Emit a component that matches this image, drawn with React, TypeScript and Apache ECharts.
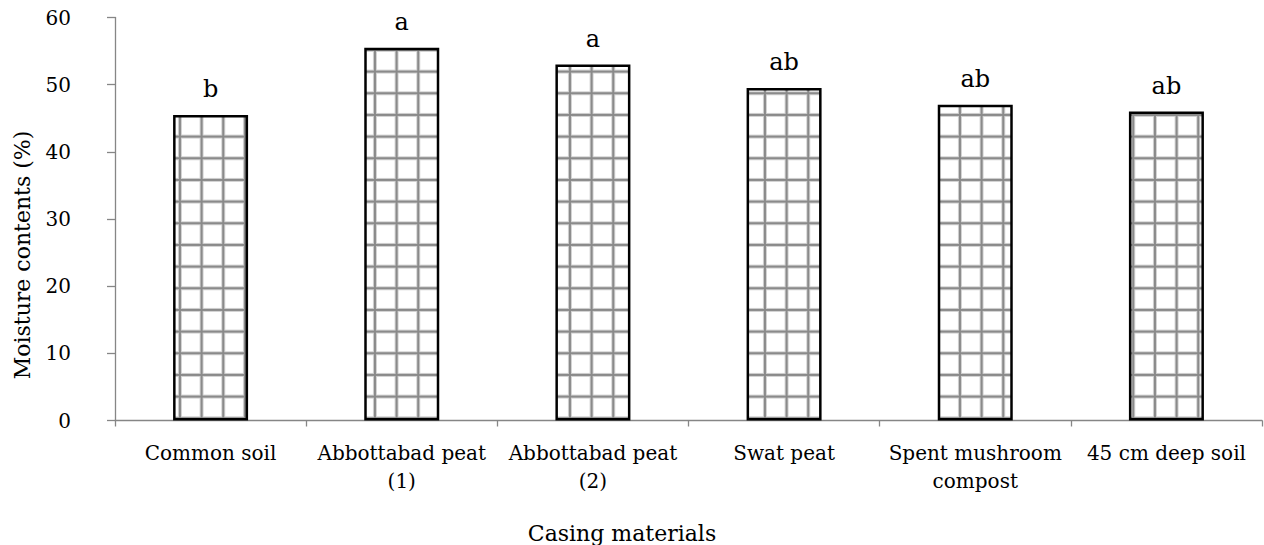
import React, { useEffect, useRef } from "react";
import * as echarts from "echarts";

const categories = [
  "Common soil",
  "Abbottabad peat\n(1)",
  "Abbottabad peat\n(2)",
  "Swat peat",
  "Spent mushroom\ncompost",
  "45 cm deep soil",
];
const moisture = [45.5, 55.5, 53, 49.5, 47, 46];
const groupLetters = ["b", "a", "a", "ab", "ab", "ab"];
const yTicks = { min: 0, max: 60, interval: 10 };
const xName = "Casing materials";
const yName = "Moisture contents (%)";

const FONT = "'DejaVu Serif', 'Liberation Serif', serif";

function makePattern(): HTMLCanvasElement {
  const size = 65;
  const c = document.createElement("canvas");
  c.width = size;
  c.height = size;
  const ctx = c.getContext("2d")!;
  ctx.fillStyle = "#ffffff";
  ctx.fillRect(0, 0, size, size);
  const step = size / 3;
  for (let k = 0; k < 3; k++) {
    const p = 6.6 + k * step;
    ctx.fillStyle = "#d2d2d2";
    ctx.fillRect(p - 2, 0, 4, size);
    ctx.fillRect(0, p - 2, size, 4);
  }
  for (let k = 0; k < 3; k++) {
    const p = 6.6 + k * step;
    ctx.fillStyle = "#8a8a8a";
    ctx.fillRect(p - 1, 0, 2, size);
    ctx.fillRect(0, p - 1, size, 2);
  }
  return c;
}

export default function App() {
  const ref = useRef<HTMLDivElement>(null);
  useEffect(() => {
    if (!ref.current) return;
    const chart = echarts.init(ref.current, null, { renderer: "svg" });
    const pat = makePattern();
    chart.setOption({
      animation: false,
      backgroundColor: "#ffffff",
      grid: { left: 115, right: 2, top: 17.5, bottom: 124.5, containLabel: false },
      xAxis: {
        type: "category",
        data: categories,
        axisLine: { show: true, lineStyle: { color: "#868686", width: 1.3 } },
        axisTick: { show: true, length: 6, lineStyle: { color: "#868686", width: 1.3 } },
        axisLabel: {
          interval: 0,
          color: "#000",
          fontFamily: FONT,
          fontSize: 20,
          lineHeight: 28,
          margin: 18,
        },
      },
      yAxis: {
        type: "value",
        min: yTicks.min,
        max: yTicks.max,
        interval: yTicks.interval,
        axisLine: { show: true, lineStyle: { color: "#868686", width: 1.3 } },
        axisTick: { show: true, length: 8, lineStyle: { color: "#868686", width: 1.3 } },
        splitLine: { show: false },
        axisLabel: {
          color: "#000",
          fontFamily: FONT,
          fontSize: 20,
          margin: 44,
        },
      },
      graphic: [
        {
          type: "text",
          x: 622,
          y: 533,
          style: {
            text: xName,
            font: `22px ${FONT}`,
            fill: "#000",
            align: "center",
            verticalAlign: "middle",
          },
        },
        {
          type: "text",
          x: 22,
          y: 255,
          rotation: Math.PI / 2,
          style: {
            text: yName,
            font: `22px ${FONT}`,
            fill: "#000",
            align: "center",
            verticalAlign: "middle",
          },
        },
      ],
      series: [
        {
          type: "bar",
          data: moisture,
          barWidth: 75,
          itemStyle: {
            color: { image: pat, repeat: "repeat", imageWidth: 65, imageHeight: 65 },
            borderColor: "#000",
            borderWidth: 2.5,
          },
          label: {
            show: true,
            position: "top",
            distance: 14,
            color: "#000",
            fontFamily: FONT,
            fontSize: 24,
            formatter: (p: any) => groupLetters[p.dataIndex],
          },
        },
      ],
    });
    return () => chart.dispose();
  }, []);
  return (
    <div
      ref={ref}
      style={{ position: "absolute", left: 0, top: 0, width: 1264, height: 545 }}
    />
  );
}
